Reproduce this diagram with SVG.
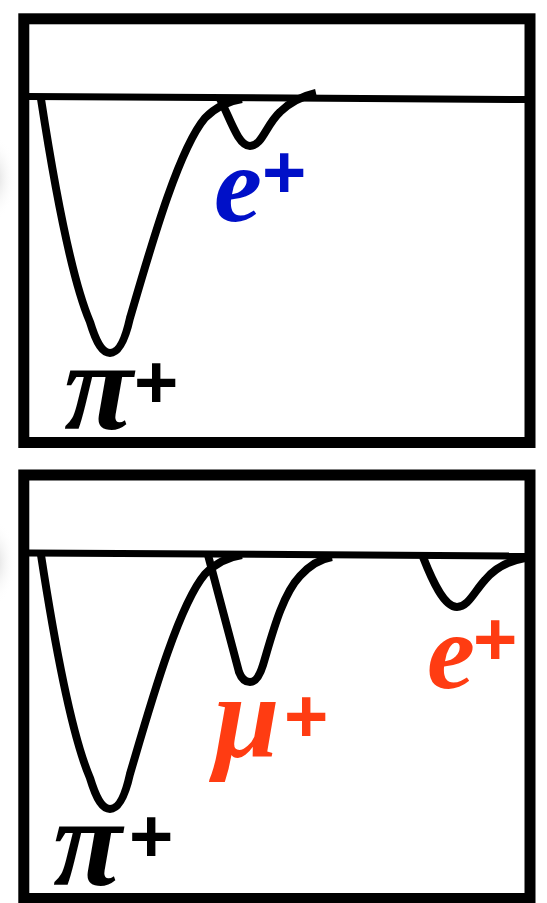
<svg xmlns="http://www.w3.org/2000/svg" width="547" height="903" viewBox="0 0 547 903">
<defs>
<radialGradient id="shade" cx="0.5" cy="0.5" r="0.5">
<stop offset="0" stop-color="#d8d8d8"/>
<stop offset="1" stop-color="#ffffff" stop-opacity="0"/>
</radialGradient>
<style>
.frame{fill:#ffffff;stroke:#000;stroke-width:11}
.base{fill:none;stroke:#000;stroke-width:7}
.pulse{fill:none;stroke:#000;stroke-width:8;stroke-linejoin:round}
.lbl{font-family:"Liberation Serif","Times New Roman",serif;font-weight:bold;font-style:italic;font-size:108px}
.pi{font-size:126px}
.mu{font-size:118px}
.sup{font-family:"Liberation Sans",Arial,sans-serif;font-weight:bold;font-style:normal;font-size:76px}
.blue{fill:#0010c8}
.red{fill:#ff3c12}
.blk{fill:#000}
</style>
</defs>
<rect width="547" height="903" fill="#ffffff"/>
<ellipse cx="-6" cy="178" rx="22" ry="42" fill="url(#shade)"/>
<ellipse cx="-6" cy="562" rx="22" ry="42" fill="url(#shade)"/>

<g id="panel-top">
<rect class="frame" x="23.8" y="18.8" width="506.2" height="423.7"/>
<path class="base" d="M29,96.5 L525,99.5"/>
</g>
<g id="panel-bottom">
<rect class="frame" x="23.8" y="475" width="506.2" height="423.5"/>
<path class="base" d="M29,553 L525,556"/>
</g>

<g id="connectors">
<g id="top-pulses">
<path class="pulse" d="M41,99 C55,190 72,280 90,322 C97,345 103,353 110,353 C117,353 124,345 130,318 C150,250 178,150 205,118 C215,108 228,101 242,99"/>
<path class="pulse" d="M220,99 C230,118 238,146 250,146 C262,146 266,125 280,112 C290,102 303,96 316,93"/>
</g>
<g id="bottom-pulses">
<path class="pulse" transform="translate(0,456)" d="M41,99 C55,190 72,280 90,322 C97,345 103,353 110,353 C117,353 124,345 130,318 C150,250 178,150 205,118 C215,108 228,101 242,99"/>
<path class="pulse" d="M208,555 L239,672 C242,680 246,682 250,682 C255,682 259,678 263,665 C272,635 282,595 300,576 C310,565 320,559 332,557"/>
<path class="pulse" d="M423,557 C432,580 444,607 457,607 C468,607 474,592 485,580 C495,568 508,561 525,558"/>
</g>
</g>

<g id="label-top-e">
<text class="lbl blue"><tspan x="214" y="221">e</tspan><tspan class="sup" x="262" y="198">+</tspan></text>
</g>
<g id="label-top-pi">
<text class="lbl blk"><tspan class="pi" x="64" y="429">π</tspan><tspan class="sup" x="134" y="408">+</tspan></text>
</g>
<g id="label-bottom-pi">
<text class="lbl blk"><tspan class="pi" x="53" y="885">π</tspan><tspan class="sup" x="129" y="862">+</tspan></text>
</g>
<g id="label-mu">
<text class="lbl red"><tspan class="mu" x="214" y="757">μ</tspan><tspan class="sup" x="284" y="742">+</tspan></text>
</g>
<g id="label-bottom-e">
<text class="lbl red"><tspan x="427" y="688">e</tspan><tspan class="sup" x="473" y="665">+</tspan></text>
</g>
</svg>
